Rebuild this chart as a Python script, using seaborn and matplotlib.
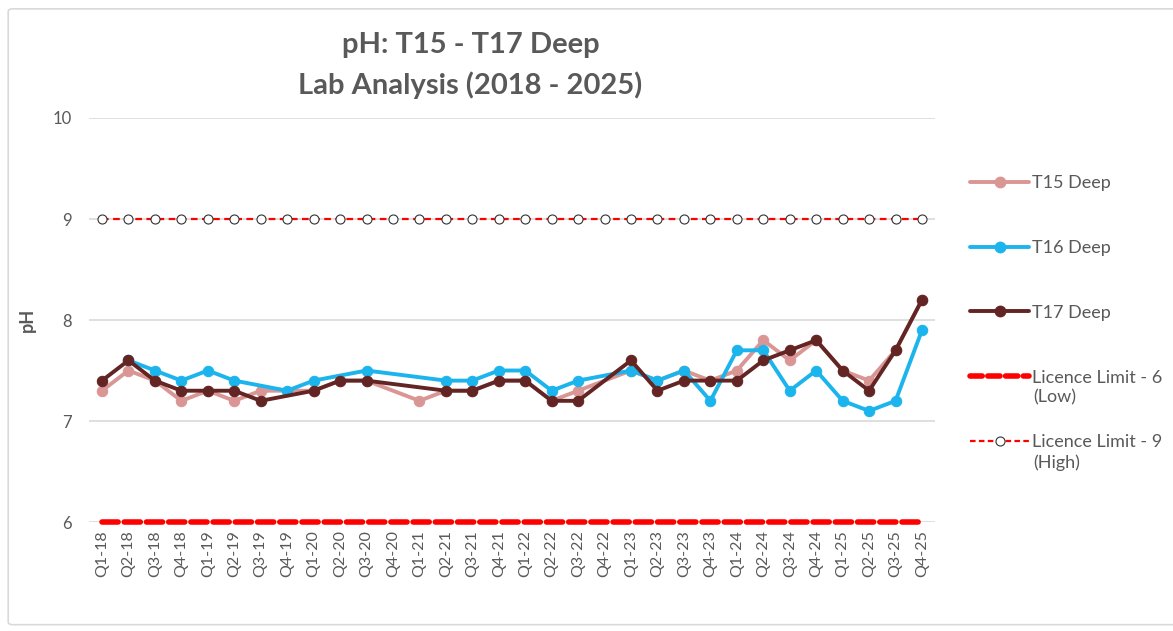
import numpy as np
import pandas as pd
import seaborn as sns
import matplotlib.pyplot as plt
from matplotlib.patches import FancyBboxPatch
from matplotlib.lines import Line2D
from matplotlib.legend_handler import HandlerLine2D

# quarterly pH lab results, NaN = no sample that quarter
quarters = ['Q1-18', 'Q2-18', 'Q3-18', 'Q4-18', 'Q1-19', 'Q2-19', 'Q3-19', 'Q4-19',
            'Q1-20', 'Q2-20', 'Q3-20', 'Q4-20', 'Q1-21', 'Q2-21', 'Q3-21', 'Q4-21',
            'Q1-22', 'Q2-22', 'Q3-22', 'Q4-22', 'Q1-23', 'Q2-23', 'Q3-23', 'Q4-23',
            'Q1-24', 'Q2-24', 'Q3-24', 'Q4-24', 'Q1-25', 'Q2-25', 'Q3-25', 'Q4-25']
t15 = [7.3, 7.5, 7.4, 7.2, 7.3, 7.2, 7.3, np.nan,
       7.3, 7.4, 7.4, np.nan, 7.2, 7.3, 7.3, 7.4,
       7.4, 7.2, 7.3, np.nan, 7.5, 7.4, 7.5, 7.4,
       7.5, 7.8, 7.6, 7.8, 7.5, 7.4, 7.7, 8.2]
t16 = [np.nan, 7.6, 7.5, 7.4, 7.5, 7.4, np.nan, 7.3,
       7.4, np.nan, 7.5, np.nan, np.nan, 7.4, 7.4, 7.5,
       7.5, 7.3, 7.4, np.nan, 7.5, 7.4, 7.5, 7.2,
       7.7, 7.7, 7.3, 7.5, 7.2, 7.1, 7.2, 7.9]
t17 = [7.4, 7.6, 7.4, 7.3, 7.3, 7.3, 7.2, np.nan,
       7.3, 7.4, 7.4, np.nan, np.nan, 7.3, 7.3, 7.4,
       7.4, 7.2, 7.2, np.nan, 7.6, 7.3, 7.4, 7.4,
       7.4, 7.6, 7.7, 7.8, 7.5, 7.3, 7.7, 8.2]
limit_low = 6
limit_high = 9

idx = np.arange(len(quarters))
df = pd.DataFrame({'idx': idx, 'quarter': quarters, 'T15 Deep': t15,
                   'T16 Deep': t16, 'T17 Deep': t17})


class CenterMarkerHandler(HandlerLine2D):
    # line across the whole handle, one marker in the middle (Excel style)
    def create_artists(self, legend, orig_handle, xdescent, ydescent, width, height, fontsize, trans):
        y = (height - ydescent) / 2
        line = Line2D([-xdescent, -xdescent + width], [y, y])
        self.update_prop(line, orig_handle, legend)
        line.set_marker('')
        line.set_markevery(None)
        mk = Line2D([-xdescent + width / 2], [y])
        self.update_prop(mk, orig_handle, legend)
        mk.set_linestyle('None')
        mk.set_markevery(None)
        line.set_transform(trans)
        mk.set_transform(trans)
        return [line, mk]


sns.set_style('white')
plt.rcParams['font.family'] = ['Lato', 'DejaVu Sans']
grey = '#595959'

fig = plt.figure(figsize=(11.73, 6.31), dpi=100)
ax = fig.add_axes([0.0757, 0.1727, 0.7216, 0.6403])

# outer chart border (right edge runs off the picture like the reference)
fig.patches.append(FancyBboxPatch((0.007, 0.01), 1.02, 0.976, boxstyle='round,pad=0,rounding_size=0.004',
                                  transform=fig.transFigure, fill=False, edgecolor='#d9d9d9', lw=1.2))

colors = {'T15 Deep': '#d99694', 'T16 Deep': '#1cb4ec', 'T17 Deep': '#632523'}
handles = []
for name in ['T15 Deep', 'T16 Deep', 'T17 Deep']:
    d = df.dropna(subset=[name])
    sns.lineplot(data=d, x='idx', y=name, ax=ax, color=colors[name], lw=2.8,
                 marker='o', markersize=7.5, markeredgecolor=colors[name])
    handles.append(Line2D([], [], color=colors[name], lw=2.8, marker='o', markersize=7.5,
                          markeredgecolor=colors[name]))

# licence limits
ax.plot(idx, [limit_low] * len(idx), color='#ff0000', lw=4, dashes=(2.9, 1.1),
        dash_capstyle='round', clip_on=False, zorder=5)
ax.plot(idx, [limit_high] * len(idx), color='#ff0000', lw=1.6, dashes=(3, 2),
        marker='o', markersize=6.5, markerfacecolor='white', markeredgecolor='#333333',
        markeredgewidth=0.8, zorder=5)
handles.append(Line2D([], [], color='#ff0000', lw=4, dashes=(2.2, 1.0), dash_capstyle='round'))
handles.append(Line2D([], [], color='#ff0000', lw=1.6, dashes=(2.5, 1.5), marker='o',
                      markersize=6.5, markerfacecolor='white', markeredgecolor='#333333',
                      markeredgewidth=0.8))
labels = ['T15 Deep', 'T16 Deep', 'T17 Deep', 'Licence Limit - 6', 'Licence Limit - 9']

ax.set_xlim(-0.5, len(quarters) - 0.5)
ax.set_ylim(6, 10)
ax.set_yticks([6, 7, 8, 9, 10])
ax.set_xticks(idx)
ax.set_xticklabels(quarters, rotation=90, fontsize=11.5, color=grey)
ax.tick_params(axis='y', labelsize=12, colors=grey, length=0, pad=12)
ax.tick_params(axis='x', length=0, pad=6)
ax.grid(axis='y', color='#d9d9d9', lw=1.2)
for s in ax.spines.values():
    s.set_visible(False)
ax.set_xlabel('')
ax.set_ylabel('pH', fontsize=13, fontweight='bold', color=grey, labelpad=12)

fig.text(0.401, 0.928, 'pH: T15 - T17 Deep', ha='center', va='center',
         fontsize=21, fontweight='bold', color=grey)
fig.text(0.401, 0.865, 'Lab Analysis (2018 - 2025)', ha='center', va='center',
         fontsize=21, fontweight='bold', color=grey)

ax.legend(handles, labels, loc='upper left', bbox_to_anchor=(0.819, 0.7365),
          bbox_transform=fig.transFigure, frameon=False, fontsize=13, labelcolor=grey,
          handlelength=3.3, handletextpad=0.15, labelspacing=2.7, borderpad=0,
          handler_map={Line2D: CenterMarkerHandler()})
# second lines of the licence limit entries
fig.text(0.8805, (631 - 397) / 631, '(Low)', ha='left', va='center', fontsize=13, color=grey)
fig.text(0.8805, (631 - 463) / 631, '(High)', ha='left', va='center', fontsize=13, color=grey)

plt.savefig('out.png', dpi=100)
